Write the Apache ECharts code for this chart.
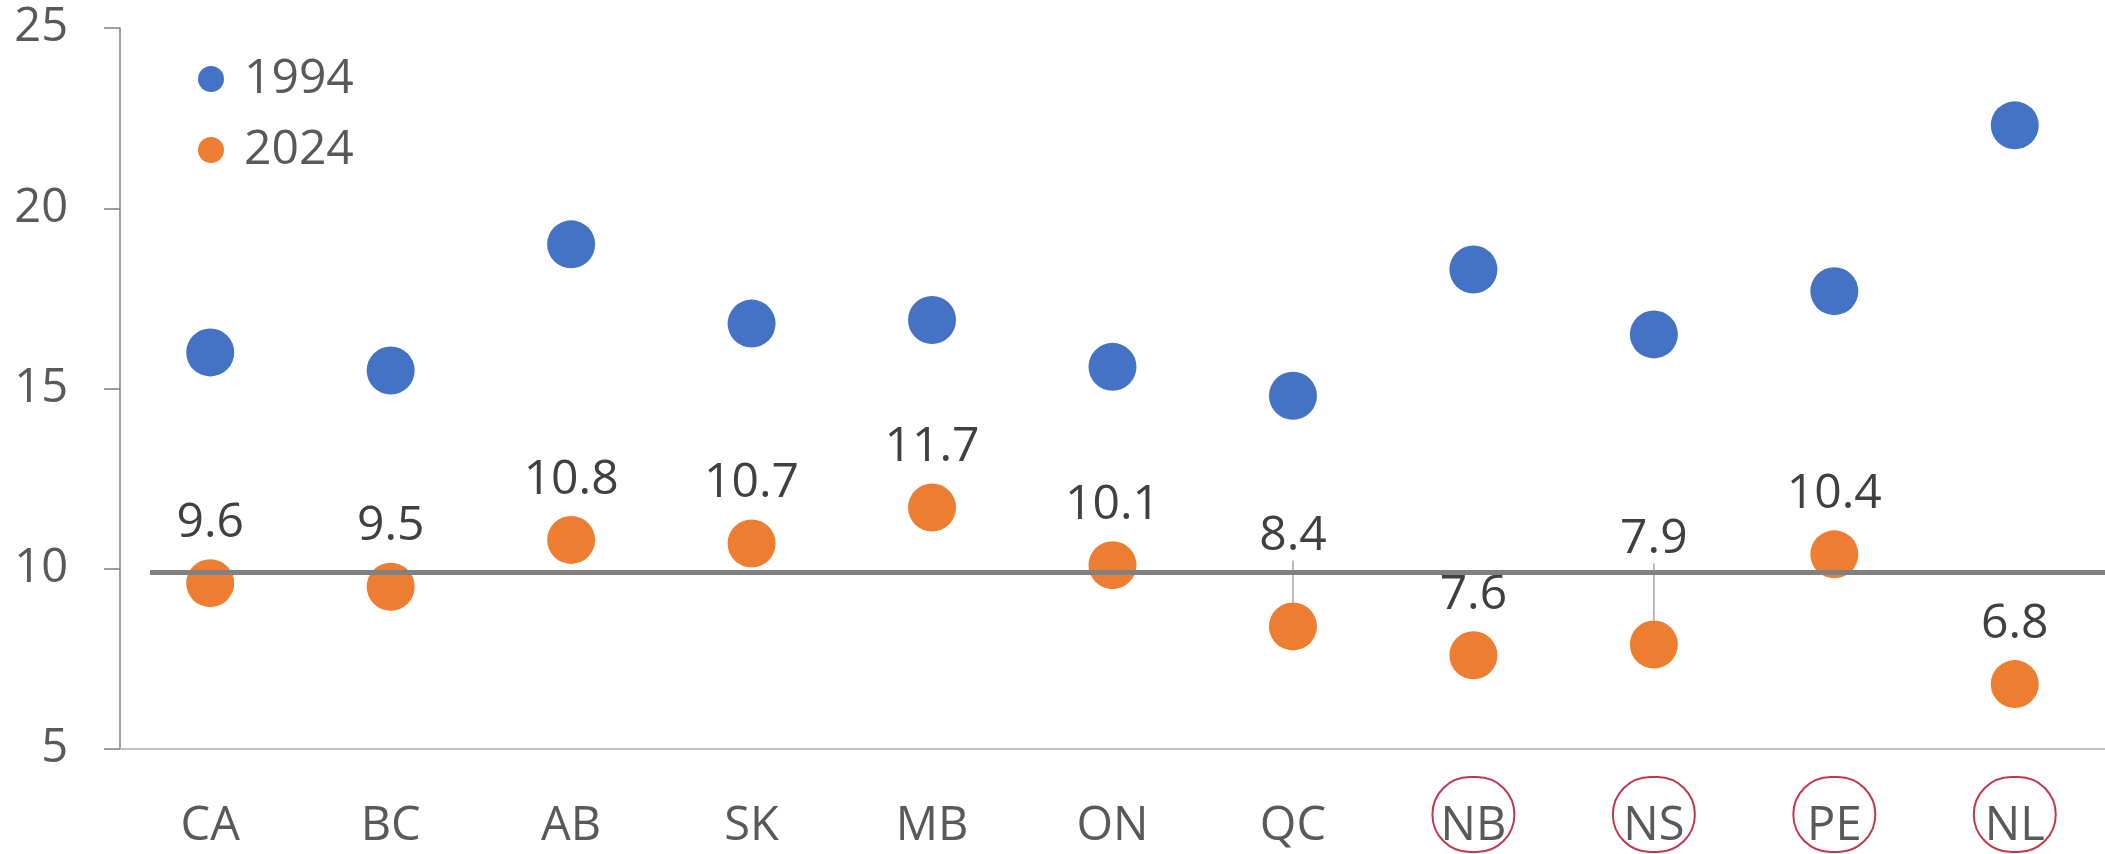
<!DOCTYPE html>
<html>
<head>
<meta charset="utf-8">
<script src="https://cdn.jsdelivr.net/npm/echarts@6/dist/echarts.min.js"></script>
<style>
html,body{margin:0;padding:0;background:#fff;}
#chart{width:2105px;height:854px;}
</style>
</head>
<body>
<div id="chart"></div>
<script>
// ---- data ----
const categories = ['CA','BC','AB','SK','MB','ON','QC','NB','NS','PE','NL'];
const values1994 = [16.0,15.5,19.0,16.8,16.9,15.6,14.8,18.3,16.5,17.7,22.3];
const values2024 = [9.6,9.5,10.8,10.7,11.7,10.1,8.4,7.6,7.9,10.4,6.8];
const seriesNames = ['1994','2024'];
const highlighted = ['NB','NS','PE','NL'];
const refValue = 9.9;
const yMin = 5, yMax = 25, yInterval = 5;

// ---- styles (not data) ----
const FONT = '"Open Sans", "Noto Sans", sans-serif';
const labelShift = [0,0,0,0,0,0,-30,0,-45,0,0];

const chart = echarts.init(document.getElementById('chart'), null, {renderer:'canvas'});

function buildOption(refLineData){
  return {
    animation:false,
    textStyle:{fontFamily:FONT},
    grid:{left:120,right:0,top:28,bottom:105,containLabel:false},
    legend:{
      data:seriesNames,
      orient:'vertical',
      left:193, top:50,
      icon:'circle',
      itemWidth:56, itemHeight:26, itemGap:23,
      textStyle:{fontSize:48,lineHeight:48,color:'#595959',fontFamily:FONT}
    },
    xAxis:{
      type:'category',
      data:categories,
      boundaryGap:true,
      axisLine:{show:true,lineStyle:{color:'#bfbfbf',width:2}},
      axisTick:{show:false},
      splitLine:{show:false},
      axisLabel:{
        interval:0,
        margin:40,
        formatter:function(v){ return highlighted.indexOf(v)>=0 ? '{c|'+v+'}' : '{n|'+v+'}'; },
        rich:{
          c:{fontSize:47,color:'#595959',fontFamily:FONT,width:82,height:51,lineHeight:51,
             padding:[24,0,0,0],align:'center',borderColor:'#c0394b',borderWidth:2,borderRadius:38},
          n:{fontSize:47,color:'#595959',fontFamily:FONT,width:82,height:51,lineHeight:51,
             padding:[24,0,0,0],align:'center'}
        }
      }
    },
    yAxis:{
      type:'value',
      min:yMin,max:yMax,interval:yInterval,
      axisLine:{show:true,lineStyle:{color:'#7f7f7f',width:1.5}},
      axisTick:{show:true,length:16,lineStyle:{color:'#7f7f7f',width:1.5}},
      splitLine:{show:false},
      axisLabel:{fontSize:47,color:'#595959',margin:52,fontFamily:FONT}
    },
    series:[
      {
        name:seriesNames[0],
        type:'scatter',
        data:values1994,
        symbol:'circle',
        symbolSize:48,
        itemStyle:{color:'#4472c4',opacity:1},
        z:2
      },
      {
        name:seriesNames[1],
        type:'scatter',
        data:values2024.map(function(v,i){
          const item = {value:v};
          if(labelShift[i]!==0){ item.labelLine = {show:true}; }
          return item;
        }),
        symbol:'circle',
        symbolSize:48,
        itemStyle:{color:'#ed7d31',opacity:1},
        label:{
          show:true,position:'top',distance:12,
          fontSize:48,lineHeight:48,color:'#404040',fontFamily:FONT,
          formatter:function(p){ return Number(p.value).toFixed(1); }
        },
        labelLayout:function(params){
          return {dy:labelShift[params.dataIndex]};
        },
        labelLine:{show:false,lineStyle:{color:'#a6a6a6',width:1.5}},
        z:2
      },
      {
        name:'ref',
        type:'line',
        data:[],
        silent:true,
        z:5,
        markLine:{
          silent:true,
          symbol:'none',
          animation:false,
          label:{show:false},
          lineStyle:{color:'#808080',width:5,type:'solid'},
          data:refLineData
        }
      }
    ]
  };
}

chart.setOption(buildOption([{yAxis:refValue}]));
const yPix = chart.convertToPixel({yAxisIndex:0}, refValue);
chart.setOption(buildOption([[{x:150,y:yPix},{x:2105,y:yPix}]]), {notMerge:true});
</script>
</body>
</html>
